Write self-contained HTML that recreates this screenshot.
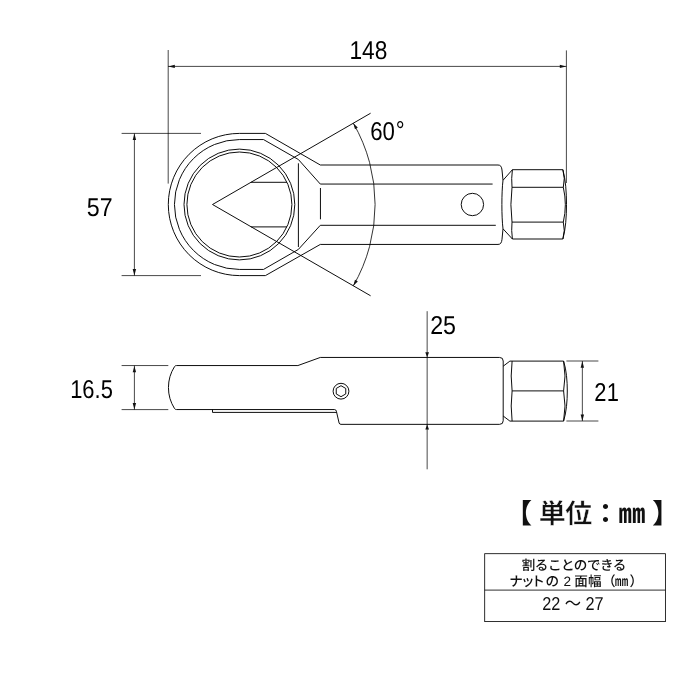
<!DOCTYPE html>
<html lang="ja">
<head>
<meta charset="utf-8">
<title>ナットブレーカー 寸法図</title>
<style>
html,body{margin:0;padding:0;background:#fff;}
body{width:700px;height:700px;overflow:hidden;position:relative;}
svg{position:absolute;left:0;top:0;display:block;}
.ln{fill:none;stroke:#000;stroke-width:0.95;stroke-linecap:butt;stroke-linejoin:round;}
.dm{fill:none;stroke:#000;stroke-width:0.72;}
.tb{fill:none;stroke:#000;stroke-width:0.82;}
.ar{fill:#111;stroke:none;}
.num{font-family:"Liberation Sans","Noto Sans CJK JP",sans-serif;font-size:25.8px;fill:#000;}
text{text-rendering:geometricPrecision;}
svg{filter:grayscale(1);}
.jp{font-family:"Liberation Sans","Noto Sans CJK JP",sans-serif;fill:#111;}
</style>
</head>
<body>
<svg width="700" height="700" viewBox="0 0 700 700">
<rect width="700" height="700" fill="#fff"/>

<!-- ===== top view ===== -->
<g class="ln">
  <!-- outer contour -->
  <path d="M239.4 133.40 L265.4 133.40 L320.3 165 L498 165 C500.6 165 501.6 166.6 502 170 L503 180.3 C501.5 192 501.5 217 503 228.8 L502 239.3 C501.6 242.8 500.6 244.43 498 244.43 L320.3 244.43 L265.4 275.60 L239.4 275.60 A71.1 71.1 0 0 1 239.4 133.40 Z"/>
  <!-- second contour -->
  <path d="M492.6 184.05 L320.3 184.05 L298.4 159.5 L263.5 139.55 L239.4 139.55 A64.95 64.95 0 0 0 239.4 269.45 L263.5 269.45 L298.4 249.4 L320.3 225.3 L495.8 225.3"/>
  <!-- inner circles -->
  <circle cx="239.4" cy="204.5" r="55.4"/>
  <circle cx="239.4" cy="204.5" r="52.5"/>
  <!-- neck lines -->
  <line x1="298.4" y1="163.3" x2="298.4" y2="247"/>
  <line x1="320.45" y1="188" x2="320.45" y2="219.3"/>
  <!-- blade -->
  <line x1="250.95" y1="182.3" x2="286.93" y2="182.3"/>
  <line x1="250.95" y1="226.9" x2="286.93" y2="226.9"/>
  <!-- V -->
  <path stroke-linejoin="miter" d="M370.6 113.22 L212.5 204.5 L370.6 295.78"/>
  <!-- angle arc -->
  <path stroke-width="0.8" d="M353.32 123.20 A162.6 162.6 0 0 1 353.32 285.80"/>
  <!-- hole -->
  <circle cx="472.4" cy="204.5" r="11.2"/>
  <!-- hex drive -->
  <path d="M503 180.3 L512.4 169.7 L562.9 169.7 M503 228.8 L512.4 239 L562.9 239"/>
  <path d="M512.4 169.7 Q511.2 178.5 512 187.3 Q509.8 204.7 512 222.1 Q511.2 230.5 512.4 239"/>
  <path d="M562.9 169.7 Q565.4 178.5 563.3 187.3 Q567.4 204.7 563.3 222.1 Q565.4 230.5 562.9 239"/>
  <path d="M562.9 169.7 C565.6 180 566.5 192 566.5 204.4 C566.5 217 565.6 229 562.9 239"/>
  <line x1="512" y1="187.3" x2="563.3" y2="187.3"/>
  <line x1="512" y1="222.1" x2="563.3" y2="222.1"/>
</g>

<!-- top view dimensions -->
<g class="dm">
  <line x1="168.2" y1="50" x2="168.2" y2="183.6"/>
  <line x1="566.4" y1="50.4" x2="566.4" y2="183"/>
  <line x1="168" y1="66.4" x2="566.4" y2="66.4"/>
  <line x1="121.6" y1="133.4" x2="201" y2="133.4"/>
  <line x1="121.6" y1="275.6" x2="201" y2="275.6"/>
  <line x1="134.4" y1="133.4" x2="134.4" y2="275.6"/>
</g>
<g class="ar">
  <path d="M168.40 66.40 L174.80 64.70 L174.80 68.10 Z"/>
  <path d="M566.20 66.40 L559.80 68.10 L559.80 64.70 Z"/>
  <path d="M134.40 133.60 L136.10 140.00 L132.70 140.00 Z"/>
  <path d="M134.40 275.40 L132.70 269.00 L136.10 269.00 Z"/>
  <path d="M353.30 123.20 L357.82 127.48 L355.00 129.19 Z"/>
  <path d="M353.30 285.80 L355.00 279.81 L357.82 281.52 Z"/>
</g>

<!-- ===== side view ===== -->
<g class="ln">
  <path d="M176.6 365.55 L297.9 365.55 L320.3 357.45 L499.6 357.45 Q503.2 357.45 503.2 361 L503.2 420.75 Q503.2 424.35 499.6 424.35 L341 424.35 Q339.5 424.35 339.1 423 L336.4 411.3 Q336 409.55 334.6 409.55 L176.6 409.55 Q175.2 409.55 174.53 408.55 A39.2 39.2 0 0 1 174.53 366.6 Q175.2 365.55 176.6 365.55 Z"/>
  <path d="M212.5 409.55 L212.5 412.4 L336.7 412.4"/>
  <circle cx="341" cy="391.2" r="7.9"/>
  <path d="M341.00 385.70 L345.76 388.45 L345.76 393.95 L341.00 396.70 L336.24 393.95 L336.24 388.45 Z"/>
  <path d="M503.2 366.2 L509.9 361.1 L563.6 361.1 M503.2 416 L509.9 421.1 L563.6 421.1"/>
  <path d="M512.1 361.1 Q510.3 376 512.1 390.9 Q510.3 406 512.1 421.1"/>
  <path d="M563.6 361.1 Q566.4 376 563.6 390.9 Q566.4 406 563.6 421.1"/>
  <path d="M563.6 361.1 C566.4 370 567.3 381 567.3 391 C567.3 401 566.4 412 563.6 421.1"/>
  <line x1="512.1" y1="390.9" x2="563.6" y2="390.9"/>
</g>
<g class="dm">
  <line x1="121.6" y1="365.55" x2="168.3" y2="365.55"/>
  <line x1="121.6" y1="409.6" x2="168.3" y2="409.6"/>
  <line x1="134.4" y1="365.55" x2="134.4" y2="409.7"/>
  <line x1="427.15" y1="311.2" x2="427.15" y2="469.3"/>
  <line x1="566.4" y1="361" x2="598.4" y2="361"/>
  <line x1="566.4" y1="421" x2="598.4" y2="421"/>
  <line x1="582.35" y1="361" x2="582.35" y2="421"/>
</g>
<g class="ar">
  <path d="M134.40 365.90 L136.10 372.30 L132.70 372.30 Z"/>
  <path d="M134.40 409.40 L132.70 403.00 L136.10 403.00 Z"/>
  <path d="M427.15 357.20 L425.30 352.20 L429.00 352.20 Z"/>
  <path d="M427.15 424.60 L429.00 429.60 L425.30 429.60 Z"/>
  <path d="M582.35 361.30 L584.05 367.70 L580.65 367.70 Z"/>
  <path d="M582.35 420.90 L580.65 414.50 L584.05 414.50 Z"/>
</g>

<!-- ===== dimension text ===== -->
<g class="num" text-anchor="middle">
  <text transform="translate(368.4 58.6) scale(0.88 1)">148</text>
  <text transform="translate(387.4 139.8) scale(0.86 1)">60<tspan dx="0.9" dy="-1.2">°</tspan></text>
  <text transform="translate(99.7 216) scale(0.9 1)">57</text>
  <text transform="translate(443.1 333.5) scale(0.9 1)">25</text>
  <text transform="translate(91.5 397.5) scale(0.85 1)">16.5</text>
  <text transform="translate(606.7 401) scale(0.85 1)">2<tspan dx="0.4">1</tspan></text>
</g>

<!-- ===== unit + table ===== -->
<text class="jp" x="591.9" y="523.3" text-anchor="middle" font-size="27" letter-spacing="-0.4" font-weight="bold">【 <tspan stroke="#fff" stroke-width="0.45">単位</tspan>：㎜ 】</text>
<g class="tb">
  <rect x="484.7" y="553.7" width="180.7" height="67.9"/>
  <line x1="484.7" y1="590.1" x2="665.4" y2="590.1"/>
</g>
<g class="jp" font-size="13.6" font-weight="500">
  <text x="573.8" y="570.3" text-anchor="middle" letter-spacing="-0.55">割ることのできる</text>
  <text y="585.8" x="509.3 521 531.2 545.6 563.6 574.2 588 602 614.8 629.4">ナットの2面幅（㎜）</text>
</g>
<text class="jp" transform="translate(572.9 610.2) scale(0.875 1)" text-anchor="middle" font-size="18.6">22 ～ 27</text>
</svg>
</body>
</html>
